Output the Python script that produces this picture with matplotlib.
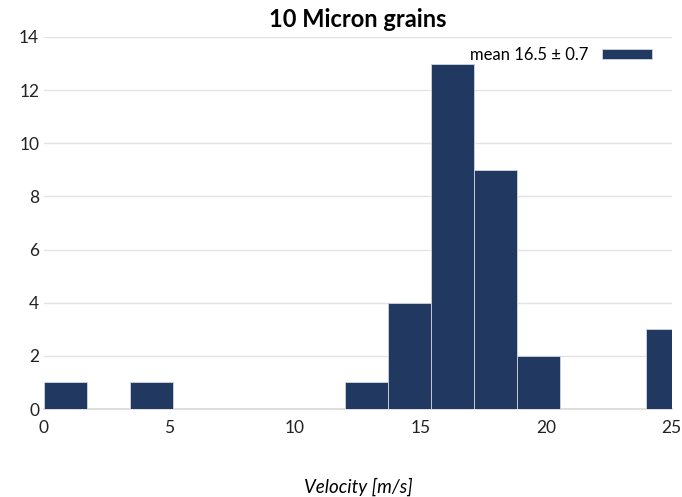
import matplotlib
matplotlib.use('Agg')
import matplotlib.pyplot as plt
import numpy as np

# histogram counts, bins of ~1.71 m/s starting at 0
bin_width = 1.712
counts = [1, 0, 1, 0, 0, 0, 0, 1, 4, 13, 9, 2, 0, 0, 3]
xticks = [0, 5, 10, 15, 20, 25]
yticks = [0, 2, 4, 6, 8, 10, 12, 14]

C_BAR = '#213860'
C_GRID = '#e3e3e3'

plt.rcParams['font.family'] = ['Lato', 'DejaVu Sans']

fig = plt.figure(figsize=(6.82, 4.97), dpi=100)
ax = fig.add_axes([0.0645, 0.177, 0.9205, 0.7486])

left_edges = np.arange(len(counts)) * bin_width
ax.bar(left_edges, counts, width=bin_width, align='edge', color=C_BAR,
       edgecolor='#d0d6e2', linewidth=0.6, label='mean 16.5 \u00b1 0.7', zorder=3)

ax.set_xlim(0, 25)
ax.set_ylim(0, 14)
ax.set_xticks(xticks)
ax.set_yticks(yticks)
ax.tick_params(axis='both', length=0, labelsize=12.5, colors='#222222')
ax.tick_params(axis='x', pad=8)
ax.yaxis.grid(True, color=C_GRID, lw=1, zorder=0)
for s in ['top', 'right', 'left']:
    ax.spines[s].set_visible(False)
ax.spines['bottom'].set_color('#d9d9d9')
ax.spines['bottom'].set_linewidth(1.2)

ax.set_title('10 Micron grains', fontsize=17, fontweight='bold', pad=7)
ax.set_xlabel('Velocity [m/s]', fontsize=13.5, fontstyle='italic', labelpad=30)

ax.legend(loc='upper right', frameon=False, markerfirst=False, fontsize=12,
          handlelength=3.0, handleheight=0.5, borderaxespad=0.2,
          bbox_to_anchor=(0.984, 1.0))

plt.savefig('out.png', dpi=100)
